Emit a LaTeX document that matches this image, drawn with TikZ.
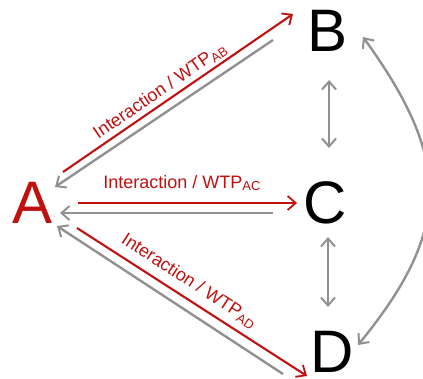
\documentclass[tikz,border=0pt]{standalone}
\usepackage{fontspec}
\setmainfont{Liberation Sans}
\usetikzlibrary{arrows.meta}
\definecolor{myred}{RGB}{192,16,16}
\definecolor{mygray}{RGB}{145,145,145}
\tikzset{
  letter/.style={inner sep=0pt, font=\fontsize{60}{60}\selectfont},
  lab/.style={inner sep=0pt, text=myred, font=\fontsize{18}{18}\selectfont},
  barb/.style={Straight Barb[length=8pt,width=14pt,line width=1.8pt]},
  redarr/.style={draw=myred, line width=2.1pt, -{Straight Barb[length=8pt,width=14pt,line width=1.8pt]}},
  grayarr/.style={draw=mygray, line width=2.4pt, -{Straight Barb[length=8pt,width=14pt,line width=2pt]}},
  graydbl/.style={draw=mygray, line width=2.4pt, {Straight Barb[length=8pt,width=14pt,line width=2pt]}-{Straight Barb[length=8pt,width=14pt,line width=2pt]}}
}
\newcommand{\subs}[1]{\raisebox{-0.3ex}{\fontsize{13}{13}\selectfont #1}}
\begin{document}
\begin{tikzpicture}[x=1pt,y=-1pt]
\useasboundingbox (0,0) rectangle (423,378);
\node[letter, text=myred] (A) at (33,203) {A};
\node[letter] (B) at (328,31) {B};
\node[letter] (C) at (325,203) {C};
\node[letter] (D) at (332,352) {D};
% endpoints
\coordinate (ab1) at (63,172); \coordinate (ab2) at (293,14);
\coordinate (ba1) at (273,40); \coordinate (ba2) at (55,187);
\coordinate (ac1) at (78,203); \coordinate (ac2) at (297,203);
\coordinate (ca1) at (273,213); \coordinate (ca2) at (60,213);
\coordinate (ad1) at (77,228); \coordinate (ad2) at (307,376);
\coordinate (da1) at (283,374); \coordinate (da2) at (57,226);
\coordinate (bc1) at (329,80); \coordinate (bc2) at (329,148);
\coordinate (cd1) at (328,237); \coordinate (cd2) at (328,307);
\coordinate (bd1) at (363,37); \coordinate (bd2) at (358,345);
\draw[redarr] (ab1) -- (ab2);
\draw[grayarr] (ba1) -- (ba2);
\draw[redarr] (ac1) -- (ac2);
\draw[grayarr] (ca1) -- (ca2);
\draw[redarr] (ad1) -- (ad2);
\draw[grayarr] (da1) -- (da2);
\draw[graydbl] (bc1) -- (bc2);
\draw[graydbl] (cd1) -- (cd2);
\draw[graydbl] (bd1) .. controls (452,160) and (452,230) .. (bd2);
\node[lab, rotate=34.5] (lab) at (160,91) {Interaction / WTP\subs{AB}};
\node[lab] (lac) at (182,183) {Interaction / WTP\subs{AC}};
\node[lab, rotate=-33] (lad) at (189,281) {Interaction / WTP\subs{AD}};
\end{tikzpicture}
\end{document}
